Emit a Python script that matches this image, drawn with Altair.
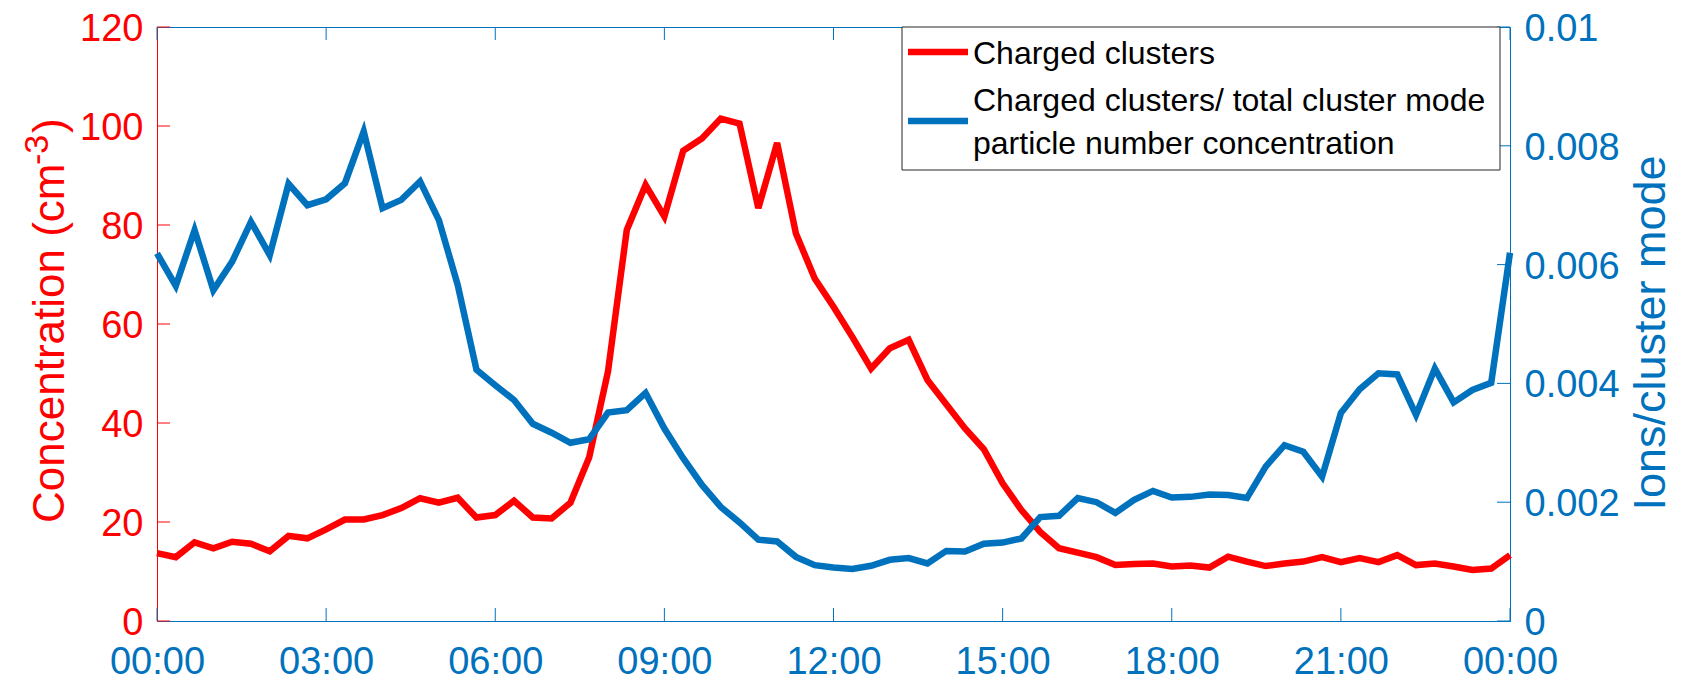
import altair as alt
import pandas as pd

RED = "#FF0000"
BLUE = "#0072BD"
FONT = "Liberation Sans"

# time of day in minutes (20-minute resolution, 00:00 -> 24:00)
minutes = list(range(0, 24 * 60 + 1, 20))
hours = [m / 60 for m in minutes]

charged = [13.7, 12.9, 15.9, 14.7, 16.0, 15.6, 14.1, 17.2, 16.7, 18.5,
           20.5, 20.5, 21.4, 22.8, 24.8, 23.9, 24.9, 20.9, 21.4, 24.3,
           20.9, 20.7, 23.9, 33.1, 50.4, 79.0, 88.1, 81.7, 95.0, 97.5,
           101.5, 100.5, 83.4, 96.6, 78.3, 69.2, 63.5, 57.4, 51.0, 55.1,
           56.8, 48.7, 43.8, 38.9, 34.7, 27.8, 22.4, 18.0, 14.7, 13.8,
           12.9, 11.3, 11.5, 11.6, 11.0, 11.2, 10.8, 13.0, 12.0, 11.1,
           11.6, 12.0, 12.9, 11.9, 12.7, 11.9, 13.3, 11.3, 11.6, 11.0,
           10.3, 10.6, 13.3]

ratio = [0.00619, 0.00564, 0.00658, 0.00557, 0.00605, 0.00672, 0.00616, 0.00736, 0.00700, 0.00710,
         0.00737, 0.00824, 0.00695, 0.00709, 0.00740, 0.00675, 0.00566, 0.00423, 0.00397, 0.00372,
         0.00332, 0.00317, 0.00300, 0.00306, 0.00351, 0.00355, 0.00384, 0.00324, 0.00274, 0.00229,
         0.00192, 0.00166, 0.00137, 0.00134, 0.00108, 0.00094, 0.00090, 0.000875, 0.00093, 0.00103,
         0.00106, 0.00097, 0.00118, 0.00117, 0.00130, 0.00132, 0.00139, 0.00175, 0.00177, 0.00207,
         0.00200, 0.00182, 0.00204, 0.00219, 0.00208, 0.00209, 0.00213, 0.00212, 0.00207, 0.00260,
         0.00296, 0.00285, 0.00243, 0.00350, 0.00390, 0.00417, 0.00415, 0.00347, 0.00425, 0.00368,
         0.00389, 0.00401, 0.00620]

x_ticks = [0, 3, 6, 9, 12, 15, 18, 21, 24]
left_ticks = [0, 20, 40, 60, 80, 100, 120]
right_ticks = [0, 0.002, 0.004, 0.006, 0.008, 0.01]

legend_labels = ["Charged clusters",
                 "Charged clusters/ total cluster mode\nparticle number concentration"]
legend_colors = [RED, BLUE]
left_title = ["Concentration (cm", "-3", ")"]
right_title = "Ions/cluster mode"

W, H = 1353, 594
TICK = 13
LBL = 38

df = pd.DataFrame({"h": hours, "charged": charged, "ratio": ratio})
xt = pd.DataFrame({"h": x_ticks})
lt = pd.DataFrame({"charged": left_ticks})
rt = pd.DataFrame({"ratio": right_ticks})
one = pd.DataFrame({"k": [0]})

xscale = alt.Scale(domain=[0, 24], nice=False, zero=False)
lscale = alt.Scale(domain=[0, 120], nice=False)
rscale = alt.Scale(domain=[0, 0.01], nice=False)

xaxis = alt.Axis(values=x_ticks,
                 labelExpr="(datum.value % 24 < 10 ? '0' : '') + (datum.value % 24) + ':00'",
                 labelFont=FONT, labelFontSize=LBL, labelColor=BLUE, labelPadding=22,
                 labelBaseline="top", labelFlush=False, labelOverlap=False,
                 domainColor=BLUE, domainWidth=1, ticks=False, tickSize=0,
                 grid=False, title=None, orient="bottom")
laxis = alt.Axis(values=left_ticks, labelFont=FONT, labelFontSize=LBL, labelColor=RED,
                 labelPadding=14, labelOffset=2.5, domainColor=RED, domainWidth=1,
                 ticks=False, tickSize=0, grid=False, title=None, orient="left",
                 labelFlush=False, labelOverlap=False)
raxis = alt.Axis(values=right_ticks, format="~g", labelFont=FONT, labelFontSize=LBL,
                 labelColor=BLUE, labelPadding=14, labelOffset=2.5, domainColor=BLUE,
                 domainWidth=1, ticks=False, tickSize=0, grid=False, title=None,
                 orient="right", labelFlush=False, labelOverlap=False)

X = alt.X("h:Q", scale=xscale, axis=xaxis)
YL = alt.Y("charged:Q", scale=lscale, axis=laxis)
YR = alt.Y("ratio:Q", scale=rscale, axis=raxis)

red_line = alt.Chart(df).mark_line(color=RED, strokeWidth=6.5).encode(x=X, y=YL)
left_tk = alt.Chart(lt).mark_rule(color=RED, strokeWidth=1).encode(
    y=YL, x=alt.value(0), x2=alt.value(TICK))
bottom_tk = alt.Chart(xt).mark_rule(color=BLUE, strokeWidth=1).encode(
    x=X, y=alt.value(H), y2=alt.value(H - TICK))
top_tk = alt.Chart(xt).mark_rule(color=BLUE, strokeWidth=1).encode(
    x=X, y=alt.value(0), y2=alt.value(TICK))
left_layer = alt.layer(red_line, left_tk, bottom_tk, top_tk)

blue_line = alt.Chart(df).mark_line(color=BLUE, strokeWidth=6.5).encode(x=X, y=YR)
right_tk = alt.Chart(rt).mark_rule(color=BLUE, strokeWidth=1).encode(
    y=YR, x=alt.value(W - TICK), x2=alt.value(W))
right_layer = alt.layer(blue_line, right_tk)

# legend
box = alt.Chart(one).mark_rect(fill="white", stroke="#262626", strokeWidth=1).encode(
    x=alt.value(745), x2=alt.value(1343), y=alt.value(0), y2=alt.value(143))
sw1 = alt.Chart(one).mark_rule(color=legend_colors[0], strokeWidth=6.5).encode(
    x=alt.value(751), x2=alt.value(811), y=alt.value(25))
sw2 = alt.Chart(one).mark_rule(color=legend_colors[1], strokeWidth=6.5).encode(
    x=alt.value(751), x2=alt.value(811), y=alt.value(94))
lab1 = alt.Chart(pd.DataFrame({"t": [legend_labels[0]]})).mark_text(
    font=FONT, fontSize=32, color="black", align="left", baseline="alphabetic").encode(
    text="t:N", x=alt.value(816), y=alt.value(37))
lab2 = alt.Chart(pd.DataFrame({"t": [legend_labels[1]]})).mark_text(
    font=FONT, fontSize=32, color="black", align="left", baseline="alphabetic",
    lineBreak="\n", lineHeight=43).encode(
    text="t:N", x=alt.value(816), y=alt.value(84))

# axis titles
lt1 = alt.Chart(pd.DataFrame({"t": [left_title[0]]})).mark_text(
    font=FONT, fontSize=44, color=RED, align="left", baseline="alphabetic", angle=270).encode(
    text="t:N", x=alt.value(-93), y=alt.value(496))
lt2 = alt.Chart(pd.DataFrame({"t": [left_title[1]]})).mark_text(
    font=FONT, fontSize=34, color=RED, align="left", baseline="alphabetic", angle=270).encode(
    text="t:N", x=alt.value(-109), y=alt.value(138))
lt3 = alt.Chart(pd.DataFrame({"t": [left_title[2]]})).mark_text(
    font=FONT, fontSize=44, color=RED, align="left", baseline="alphabetic", angle=270).encode(
    text="t:N", x=alt.value(-93), y=alt.value(106))
rtt = alt.Chart(pd.DataFrame({"t": [right_title]})).mark_text(
    font=FONT, fontSize=45, color=BLUE, align="center", baseline="alphabetic", angle=270).encode(
    text="t:N", x=alt.value(1508), y=alt.value(306))

deco = alt.layer(box, sw1, sw2, lab1, lab2, lt1, lt2, lt3, rtt)

chart = alt.layer(left_layer, right_layer, deco).resolve_scale(
    y="independent"
).properties(
    width=W, height=H,
    autosize=alt.AutoSizeParams(type="none"),
    padding={"left": 149, "top": 19, "right": 170, "bottom": 60},
    background="white",
).configure_view(stroke=BLUE, strokeWidth=1)

chart.save("out.html", embed_options={"renderer": "svg", "actions": False})
